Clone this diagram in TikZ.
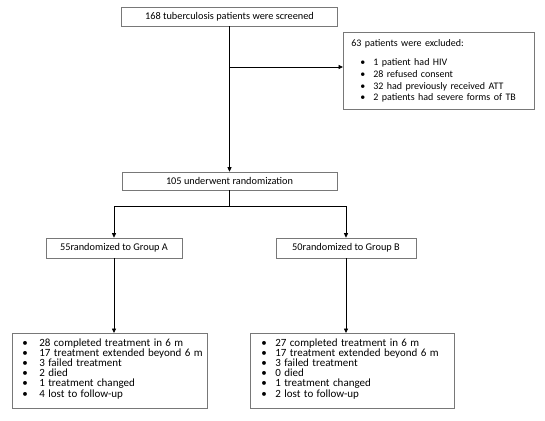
\documentclass[tikz,border=0pt]{standalone}
\usepackage{fontspec}
\setmainfont{Carlito}
\usetikzlibrary{arrows.meta,positioning}
\definecolor{boxgray}{RGB}{120,120,120}
\newcommand{\bitem}[2][12pt]{\mbox{\makebox[#1][l]{\textbullet}#2}}

\begin{document}
\begin{tikzpicture}[x=1pt,y=-1pt,font=\fontsize{10.3}{11}\selectfont,
      b/.style={rectangle, draw=boxgray, line width=0.6pt, inner sep=0pt, align=center},
      lst/.style={rectangle, draw=boxgray, line width=0.6pt, anchor=north west, align=left,
                  inner xsep=0pt, inner ysep=0pt},
      arr/.style={-{Triangle[length=4.5pt,width=4pt]}, line width=0.8pt},
      ln/.style={line width=0.8pt}]
    \useasboundingbox (0,0) rectangle (545,420);
    \node[b, minimum width=216, minimum height=19] (screen) at (229.5,16.5) {168 tuberculosis patients were screened};
    \node[lst, minimum width=191, minimum height=77, text width=191] (excl) at (343,32)
      {\fontsize{10}{11.7}\selectfont\hspace*{8pt}63 patients were excluded:\\[7pt]
       \hspace*{17pt}\bitem[13pt]{1 patient had HIV}\\
       \hspace*{17pt}\bitem[13pt]{28 refused consent}\\
       \hspace*{17pt}\bitem[13pt]{32 had previously received ATT}\\
       \hspace*{17pt}\bitem[13pt]{2 patients had severe forms of TB}};
    \node[b, minimum width=215, minimum height=18] (rand) at (229.5,181) {105 underwent randomization};
    \node[b, minimum width=136, minimum height=20] (grpA) at (114,248) {55randomized to Group A};
    \node[b, minimum width=140, minimum height=20] (grpB) at (346,248) {50randomized to Group B};
    \node[lst, minimum width=195, minimum height=75, text width=195] (resA) at (12,333)
      {\fontsize{11}{10}\selectfont\\[-6pt]
       \hspace*{10pt}\bitem[17pt]{28 completed treatment in 6 m}\\
       \hspace*{10pt}\bitem[17pt]{17 treatment extended beyond 6 m}\\
       \hspace*{10pt}\bitem[17pt]{3 failed treatment}\\
       \hspace*{10pt}\bitem[17pt]{2 died}\\
       \hspace*{10pt}\bitem[17pt]{1 treatment changed}\\
       \hspace*{10pt}\bitem[17pt]{4 lost to follow-up}};
    \node[lst, minimum width=204, minimum height=75, text width=204] (resB) at (250,333)
      {\fontsize{11}{10}\selectfont\\[-6pt]
       \hspace*{11pt}\bitem[14pt]{27 completed treatment in 6 m}\\
       \hspace*{11pt}\bitem[14pt]{17 treatment extended beyond 6 m}\\
       \hspace*{11pt}\bitem[14pt]{3 failed treatment}\\
       \hspace*{11pt}\bitem[14pt]{0 died}\\
       \hspace*{11pt}\bitem[14pt]{1 treatment changed}\\
       \hspace*{11pt}\bitem[14pt]{2 lost to follow-up}};
    % connectors
    \coordinate (branch) at (229.5,67);
    \coordinate (split) at (229.5,206);
    \draw[arr] (screen.south) -- (rand.north);
    \draw[arr] (branch) -- (branch -| excl.west);
    \draw[ln] (rand.south) -- (split);
    \draw[ln] (split -| grpA.north) -- (split -| grpB.north);
    \draw[arr] (split -| grpA.north) -- (grpA.north);
    \draw[arr] (split -| grpB.north) -- (grpB.north);
    \draw[arr] (grpA.south) -- (grpA.south |- resA.north);
    \draw[arr] (grpB.south) -- (grpB.south |- resB.north);
  \end{tikzpicture}
\end{document}
